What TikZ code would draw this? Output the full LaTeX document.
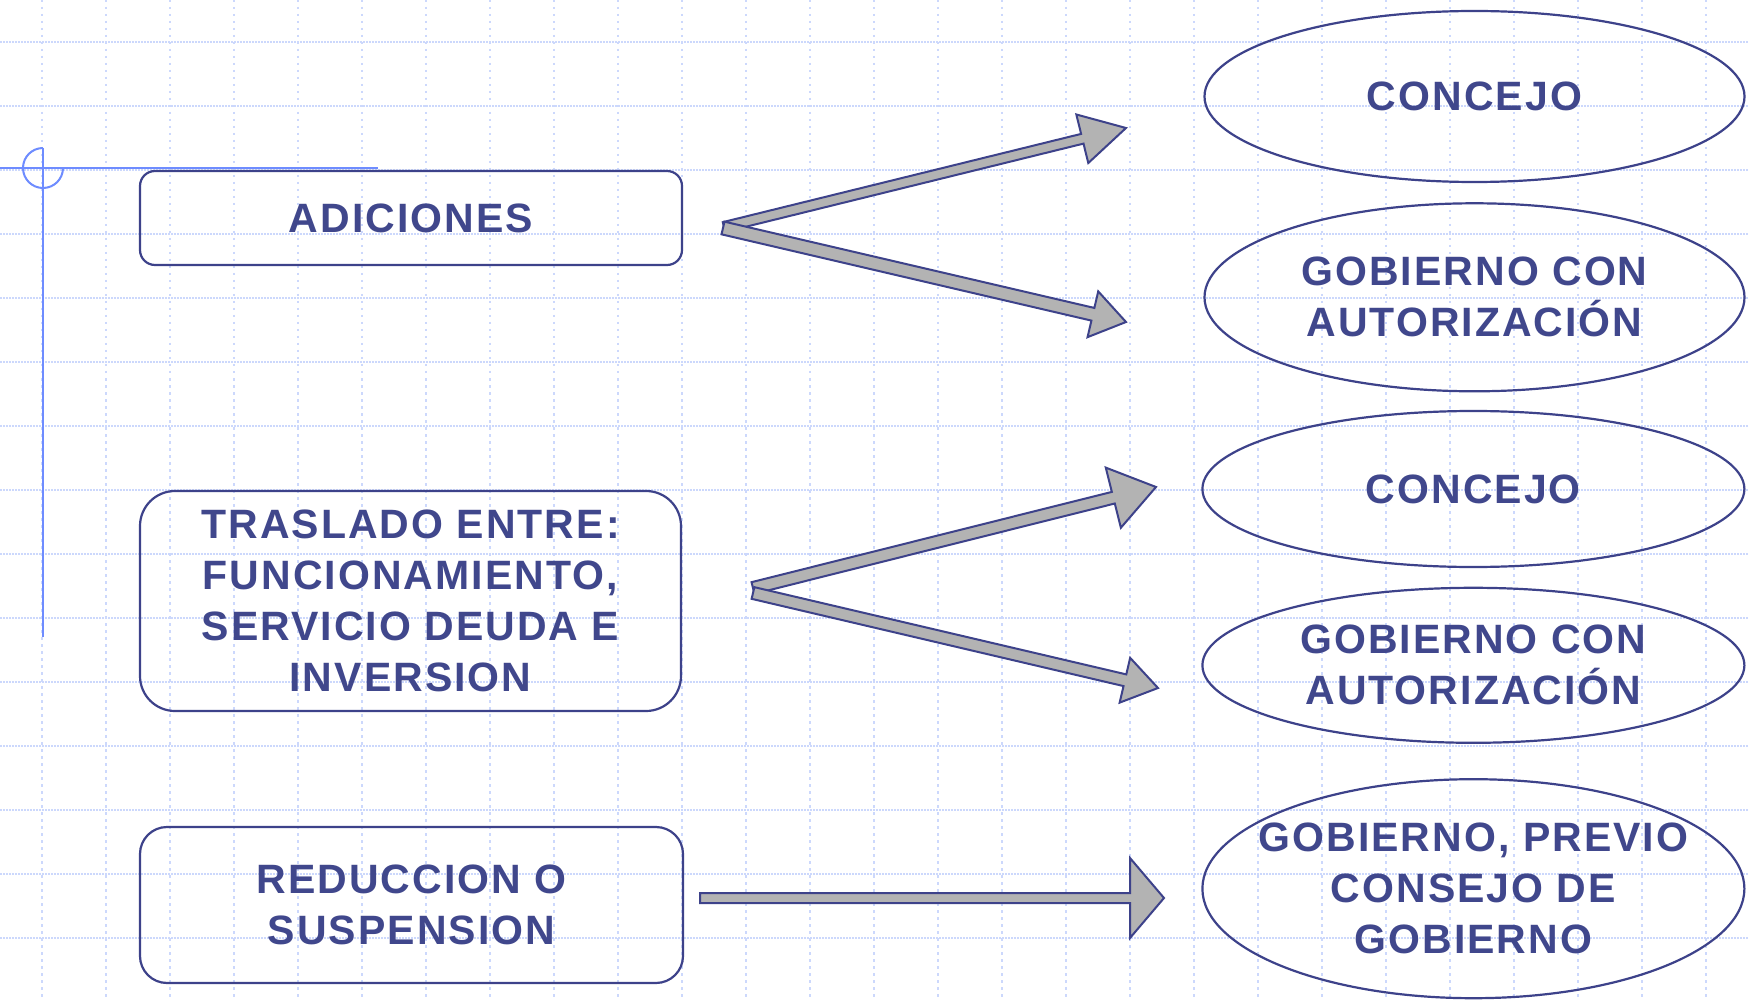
\documentclass[tikz,border=0pt]{standalone}
\usepackage{fontspec}
\newfontfamily\diagfont{Liberation Sans}[LetterSpace=5]
\usetikzlibrary{shapes.geometric,calc}
\definecolor{txtc}{RGB}{64,71,140}
\definecolor{linec}{RGB}{61,66,138}
\definecolor{gridc}{RGB}{204,216,252}
\definecolor{crossc}{RGB}{110,140,255}
\definecolor{arrfill}{RGB}{179,179,179}
% #1 start, #2 end, #3 half shaft width, #4 half head width, #5 head length
\newcommand\blockarrow[5]{%
  \coordinate (hb) at ($(#2)!#5!(#1)$);
  \filldraw[arrowshape] ($(#1)!#3!90:(#2)$) -- ($(hb)!#3!90:(#2)$) -- ($(hb)!#4!90:(#2)$) -- (#2)
    -- ($(hb)!#4!-90:(#2)$) -- ($(hb)!#3!-90:(#2)$) -- ($(#1)!#3!-90:(#2)$) -- cycle;}
\begin{document}
\begin{tikzpicture}[x=1pt,y=-1pt,
  lbl/.style={font=\diagfont\bfseries\fontsize{41pt}{51pt}\selectfont, text=txtc, align=center, inner sep=0pt},
  boxst/.style={draw=linec, line width=2.2pt, rectangle},
  ellst/.style={draw=linec, line width=2.2pt, ellipse, inner sep=0pt},
  arrowshape/.style={fill=arrfill, draw=linec, line width=2pt},
  gridh/.style={draw=gridc, line width=2pt, dash pattern=on 1.8pt off 1.2pt},
  gridv/.style={draw=gridc, line width=2pt, dash pattern=on 2.5pt off 4.5pt},
  cross/.style={draw=crossc, line width=2pt}]
\fill[white] (0,0) rectangle (1749,1000);
\useasboundingbox (0,0) rectangle (1749,1000);
% grid
\foreach \k in {0,...,14}{\pgfmathsetmacro\yy{42+64*\k}\draw[gridh] (0,\yy) -- (1749,\yy);}
\foreach \k in {0,...,26}{\pgfmathsetmacro\xx{42+64*\k}\draw[gridv] (\xx,0) -- (\xx,1000);}
% crosshair
\draw[cross] (0,168) -- (378,168);
\draw[cross] (43,148) -- (43,637);
\draw[cross] (43,148) arc[start angle=-90, end angle=-360, radius=20];
% left boxes
\node[boxst, lbl, minimum width=542pt, minimum height=94pt, rounded corners=15pt] (adic) at (411,218) {ADICIONES};
\node[boxst, lbl, minimum width=541pt, minimum height=220pt, rounded corners=35pt] (tras) at (410.5,601) {TRASLADO ENTRE:\\FUNCIONAMIENTO,\\SERVICIO DEUDA E\\INVERSION};
\node[boxst, lbl, minimum width=543pt, minimum height=156pt, rounded corners=27pt] (redu) at (411.5,905) {REDUCCION O\\SUSPENSION};
% ellipses
\node[ellst, minimum width=540pt, minimum height=171pt] (e1) at (1474.5,96.5) {};
\node[lbl] (t1) at (e1.center) {CONCEJO};
\node[ellst, minimum width=540pt, minimum height=188pt] (e2) at (1474.5,297.3) {};
\node[lbl] (t2) at (e2.center) {GOBIERNO CON\\AUTORIZACIÓN};
\node[ellst, minimum width=542pt, minimum height=156pt] (e3) at (1473.4,489) {};
\node[lbl] (t3) at (e3.center) {CONCEJO};
\node[ellst, minimum width=542pt, minimum height=155pt] (e4) at (1473.4,665.3) {};
\node[lbl] (t4) at (e4.center) {GOBIERNO CON\\AUTORIZACIÓN};
\node[ellst, minimum width=542pt, minimum height=219pt] (e5) at (1473.4,888.7) {};
\node[lbl] (t5) at (e5.center) {GOBIERNO, PREVIO\\CONSEJO DE\\GOBIERNO};
% arrows
\coordinate (a1s) at (724,227); \coordinate (a1e) at (1126,128);
\blockarrow{a1s}{a1e}{5pt}{25pt}{45pt}
\coordinate (a2s) at (723,228); \coordinate (a2e) at (1126,322);
\blockarrow{a2s}{a2e}{6.5pt}{23.5pt}{34pt}
\coordinate (a3s) at (753,588); \coordinate (a3e) at (1156,487);
\blockarrow{a3s}{a3e}{6pt}{31pt}{44pt}
\coordinate (a4s) at (753,593); \coordinate (a4e) at (1158,688);
\blockarrow{a4s}{a4e}{6pt}{23pt}{34pt}
\coordinate (a5s) at (700,898); \coordinate (a5e) at (1164,898);
\blockarrow{a5s}{a5e}{5pt}{40pt}{34pt}
\end{tikzpicture}
\end{document}
